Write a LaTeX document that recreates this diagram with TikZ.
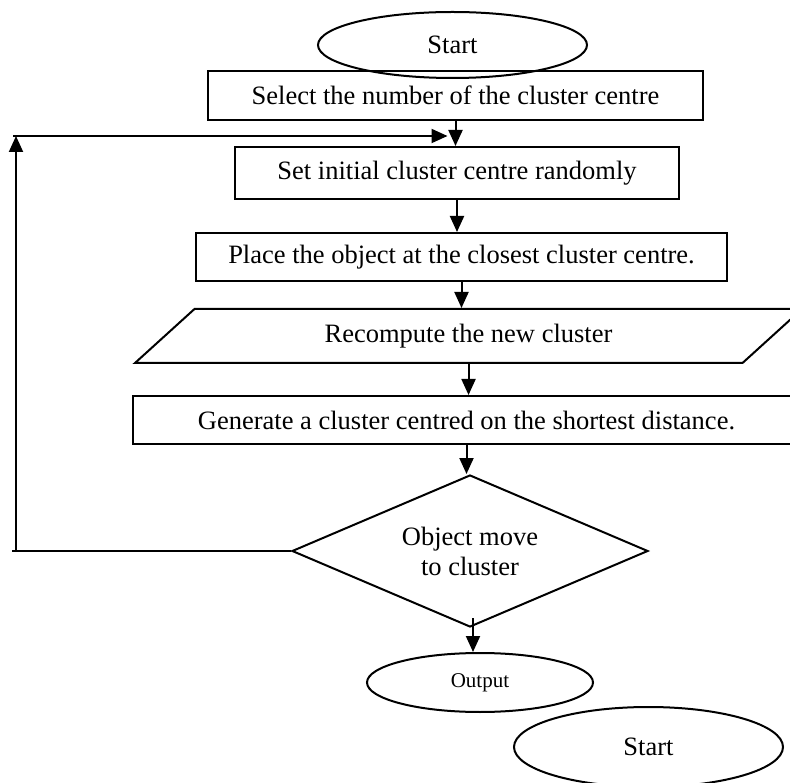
\documentclass[tikz,border=0pt]{standalone}
\usepackage{fontspec}
\setmainfont{Liberation Serif}
\usetikzlibrary{arrows.meta, shapes.geometric}

\begin{document}
\begin{tikzpicture}[x=1pt, y=-1pt, line width=2pt,
    font=\fontsize{26.5}{30}\selectfont,
    arr/.style={-{Triangle[length=16pt,width=14pt]}},
    stepbox/.style={draw, rectangle, inner sep=0pt},
    term/.style={draw, ellipse, inner sep=0pt},
    io/.style={draw, trapezium, trapezium left angle=22, trapezium right angle=158,
        trapezium stretches body, inner sep=0pt},
    test/.style={draw, diamond, aspect=2.34, inner sep=0pt, align=center}]
\clip (0,0) rectangle (790,783);
\fill[white] (0,0) rectangle (790,783);

\node[term, minimum width=269, minimum height=66] (start) at (452.5,45) {Start};
\node[stepbox, fill=white, minimum width=495, minimum height=49] (sel) at (455.5,95.5) {Select the number of the cluster centre};
% redraw the lower arc of the ellipse over the box
\begin{scope}
    \clip (300,71) rectangle (600,90);
    \draw (452.5,45) ellipse [x radius=134.5, y radius=33];
\end{scope}
\node[stepbox, minimum width=444, minimum height=52] (init) at (457,173) {Set initial cluster centre randomly};
\node[stepbox, minimum width=531, minimum height=48] (place) at (461.5,257) {Place the object at the closest cluster centre.};
\node[io, minimum width=667, minimum height=54] (recomp) at (468.5,336) {Recompute the new cluster};
\node[stepbox, minimum width=667, minimum height=48] (gen) at (466.5,420) {Generate a cluster centred on the shortest distance.};
\node[test, minimum width=356, minimum height=152] (move) at (470,551) {Object move\\to cluster};
\node[term, minimum width=226, minimum height=59, font=\fontsize{21}{25}\selectfont] (out) at (480,682.5) {Output};
\node[term, minimum width=269, minimum height=80] (start2) at (648.5,747) {Start};

\draw[arr] (sel.south) -- (sel.south |- init.north);
\draw[arr] (init.south) -- (init.south |- place.north);
\draw[arr] (place.south) -- (place.south |- recomp.north);
\draw[arr] (recomp.south) -- (recomp.south |- gen.north);
\draw[arr] (gen.south) -- (gen.south |- move.north);
\draw[arr] ([xshift=3pt,yshift=10pt]move.south) -- ([xshift=3pt]move.south |- out.north);

% loop back
\coordinate (lb) at (16,551);
\coordinate (lt) at (16,136);
\draw (move.west) -- ([xshift=-4pt]lb);
\draw[arr] (lb) -- (lt);
\draw[arr] ([xshift=-3pt]lt) -- ([xshift=-8pt]lt -| sel.south);
\end{tikzpicture}
\end{document}
